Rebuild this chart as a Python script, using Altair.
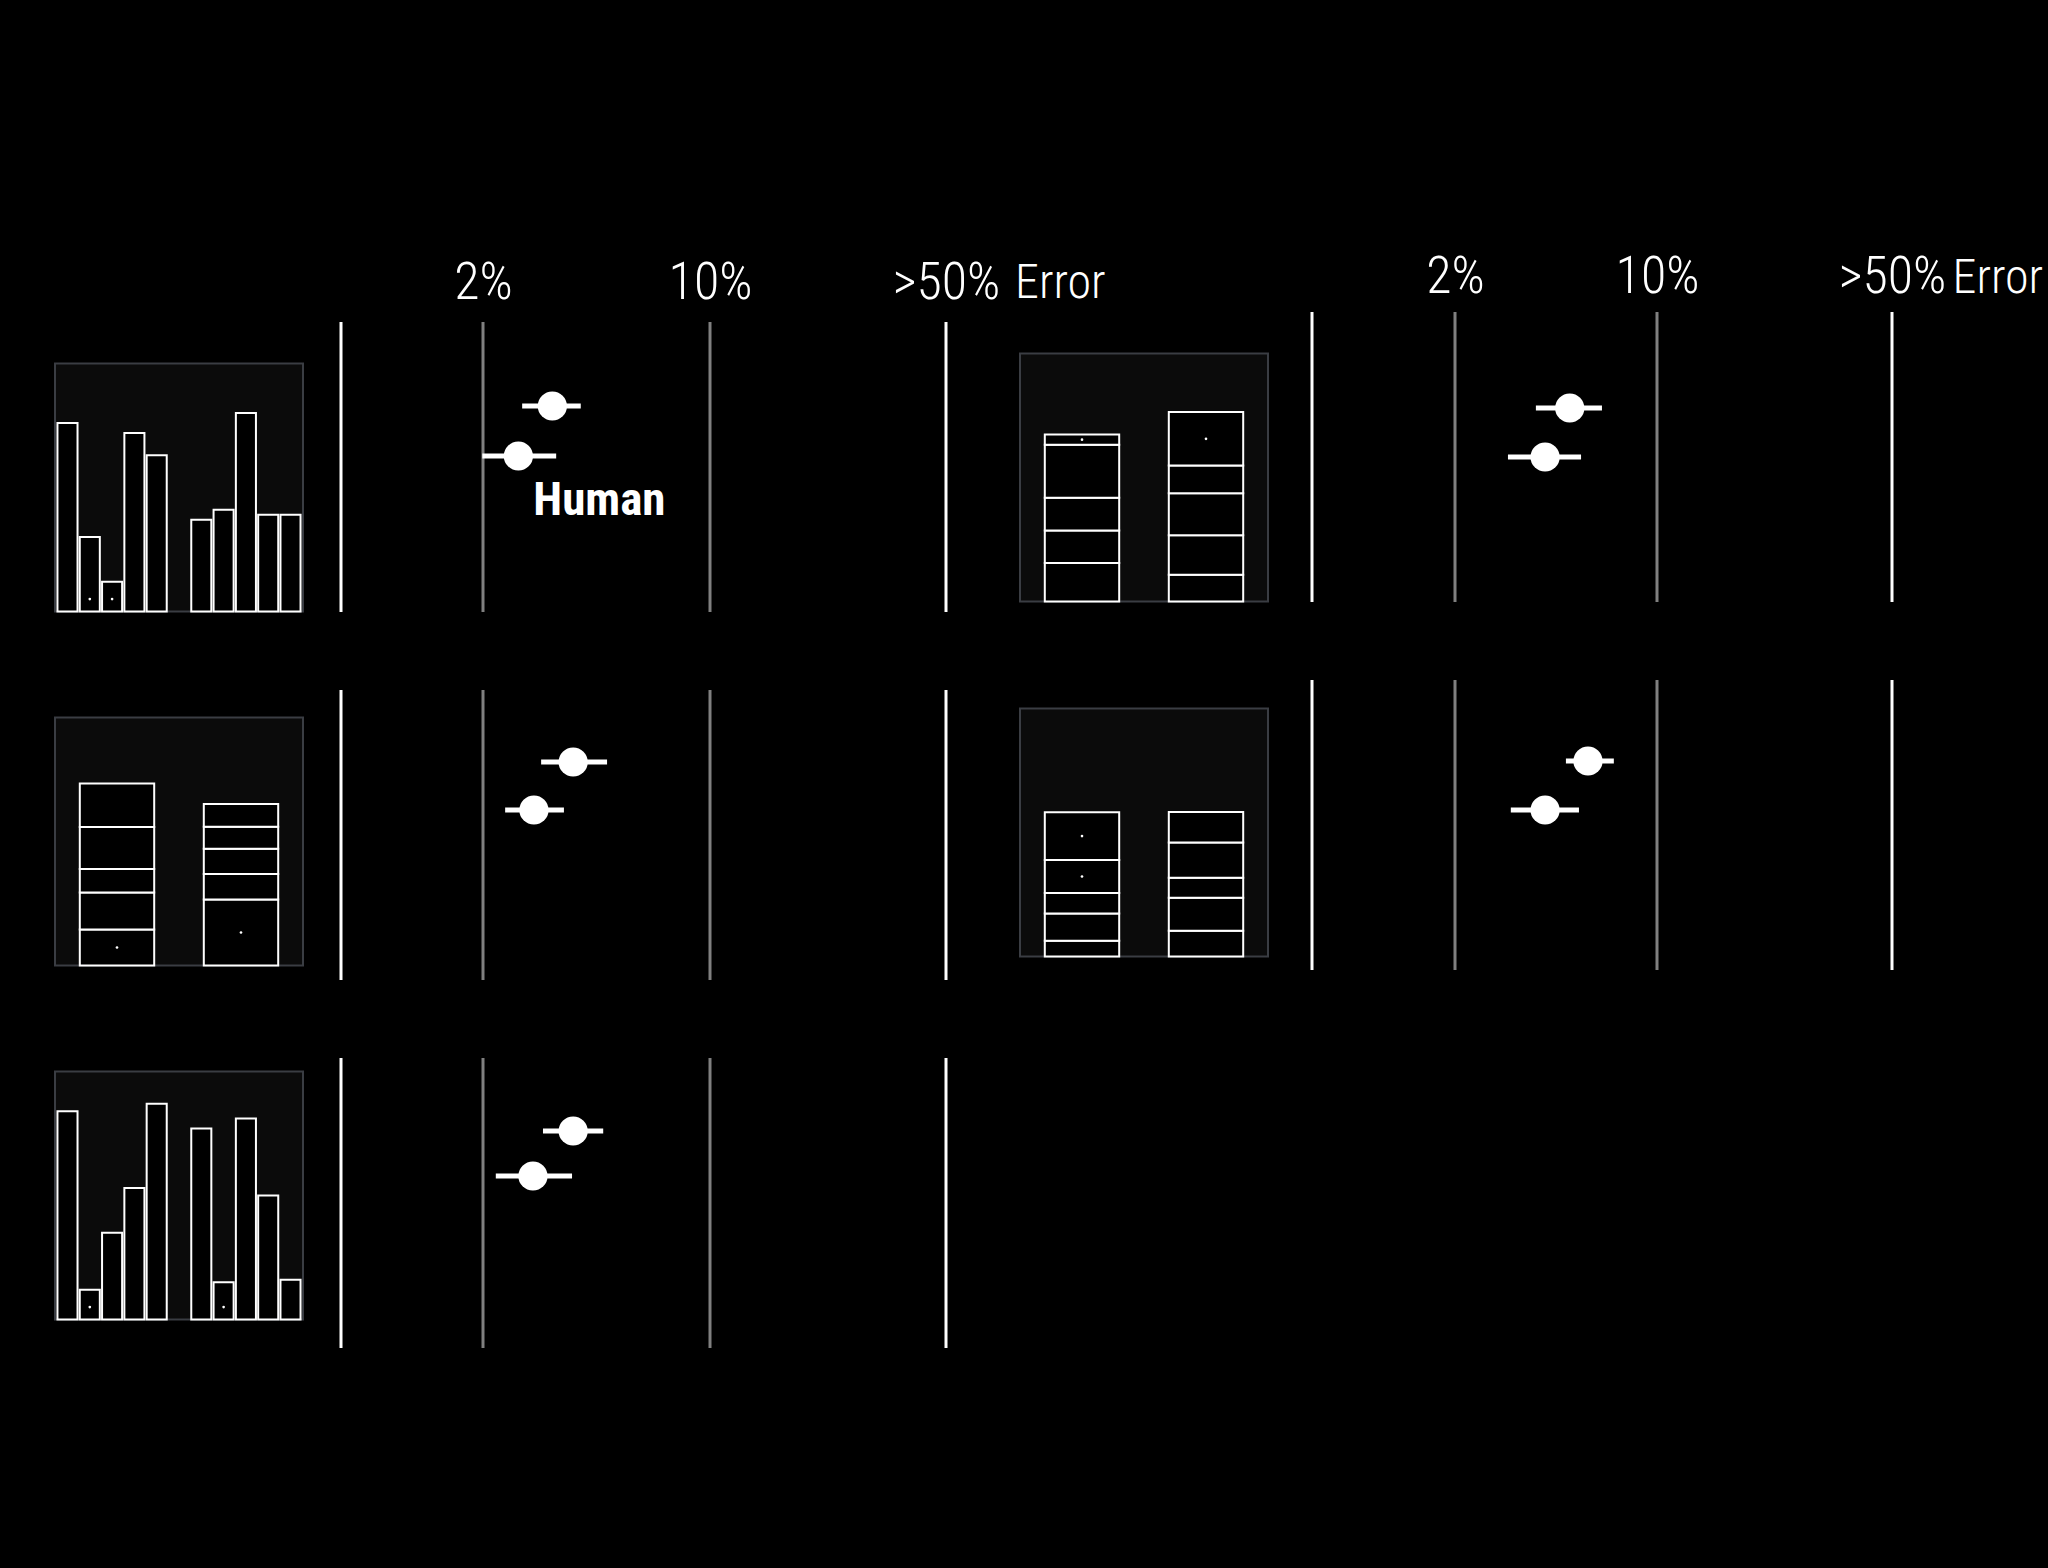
import altair as alt
import pandas as pd

FONT = "'Roboto Condensed', 'Liberation Sans Narrow', 'DejaVu Sans Condensed', Roboto, sans-serif"

# ---------------- data (panels: left column rows 1-3, right column rows 1-2) ----------------
series_names = ["Model", "Human"]
model_err = [3.27, 3.79, 3.79, 4.99, 5.77]
model_lo = [2.64, 3.02, 3.06, 3.81, 4.84]
model_hi = [4.00, 4.82, 4.69, 6.45, 7.09]
human_err = [2.57, 2.87, 2.85, 4.10, 4.10]
human_lo = [1.99, 2.34, 2.19, 3.05, 3.12]
human_hi = [3.36, 3.55, 3.76, 5.46, 5.37]

axis_title = "Error"
tick_values = [2, 10, 50]
guide_values = [0.7, 2, 10, 50]
guide_colors = ["#ffffff", "#808080", "#808080", "#ffffff"]

# thumbnail stimuli
bar_slots = ["b1", "b2", "b3", "b4", "b5", "gap", "b6", "b7", "b8", "b9", "b10"]
bars_1 = [76, 30, 12, 72, 63, 37, 41, 80, 39, 39]
bars_1_marked = ["b2", "b3"]
bars_2 = [84, 12, 35, 53, 87, 77, 15, 81, 50, 16]
bars_2_marked = ["b2", "b7"]

stack_1_left = [14.5, 14.9, 9.5, 16.9, 17.6]
stack_1_right = [26.6, 10.3, 10.2, 8.8, 9.2]
stack_1_marked = [("A", 1), ("B", 1)]
stack_2_left = [15.5, 13.1, 13.2, 21.4, 4.1]
stack_2_right = [10.8, 15.9, 16.9, 11.2, 21.6]
stack_2_marked = [("A", 5), ("B", 5)]
stack_3_left = [6.4, 10.9, 8.3, 13.3, 19.3]
stack_3_right = [10.4, 13.3, 8.1, 14.2, 12.3]
stack_3_marked = [("A", 4), ("A", 5)]

# ---------------- layout ----------------
THUMB = 248
PLOT_H = 290
VIEW_THUMB = alt.ViewBackground(fill="#0b0b0b", stroke="#3a3d43", strokeWidth=2)
Y_THUMB = alt.Scale(domain=[0, 100], nice=False, zero=True)
ONE = pd.DataFrame({"s": [0]})


def spacer(label=None, lx=0, ly=0):
    pt = alt.Chart(ONE).mark_point(opacity=0, size=1).encode(x=alt.value(20), y=alt.value(0))
    if label is None:
        return pt.properties(width=1, height=1)
    txt = alt.Chart(pd.DataFrame({"t": [label]})).mark_text(
        align="left", baseline="alphabetic", font=FONT, fontSize=48, fontWeight=300,
        color="#ffffff").encode(x=alt.value(lx), y=alt.value(ly), text="t:N")
    return alt.layer(pt, txt).properties(width=1, height=1)


def extent_marker(xpix):
    return alt.Chart(ONE).mark_point(opacity=0, size=1).encode(
        x=alt.value(xpix), y=alt.value(100))


def bar_thumb(values, marked):
    slots = [s for s in bar_slots if s != "gap"]
    df = pd.DataFrame({"slot": slots, "value": values, "marked": [s in marked for s in slots]})
    x = alt.X("slot:N", sort=bar_slots,
              scale=alt.Scale(domain=bar_slots, paddingInner=0.1, paddingOuter=0.11), axis=None)
    bars = alt.Chart(df).mark_bar(fill="#000000", stroke="#ffffff", strokeWidth=2).encode(
        x=x, y=alt.Y("value:Q", scale=Y_THUMB, axis=None))
    dots = alt.Chart(df).transform_filter("datum.marked").mark_circle(
        size=7, color="#ffffff", opacity=1).encode(x=x, y=alt.datum(5))
    return alt.layer(bars, dots).properties(width=THUMB, height=THUMB, view=VIEW_THUMB)


def stack_thumb(left, right, marked):
    rows = []
    for bar, vals in (("A", left), ("B", right)):
        for i, v in enumerate(vals):
            rows.append({"bar": bar, "seg": i + 1, "value": v, "marked": (bar, i + 1) in marked})
    df = pd.DataFrame(rows)
    base = alt.Chart(df).transform_stack(
        stack="value", groupby=["bar"], sort=[alt.SortField("seg")], as_=["y0", "y1"])
    x = alt.X("bar:N", scale=alt.Scale(paddingInner=0.4, paddingOuter=0.2), axis=None)
    bars = base.mark_bar(fill="#000000", stroke="#ffffff", strokeWidth=2).encode(
        x=x, y=alt.Y("y0:Q", scale=Y_THUMB, axis=None), y2="y1:Q")
    dots = base.transform_filter("datum.marked").transform_calculate(
        mid="(datum.y0 + datum.y1) / 2").mark_circle(size=7, color="#ffffff", opacity=1).encode(
        x=x, y=alt.Y("mid:Q", scale=Y_THUMB, axis=None))
    return alt.layer(bars, dots).properties(width=THUMB, height=THUMB, view=VIEW_THUMB)


def dot_plot(i, width, x_range, y_range, show_axis=False, show_label=False,
             label_pad=22, title_dx=None, marker_x=None):
    df_pts = pd.DataFrame({
        "who": series_names,
        "err": [model_err[i], human_err[i]],
        "lo": [model_lo[i], human_lo[i]],
        "hi": [model_hi[i], human_hi[i]],
    })
    df_guides = pd.DataFrame({"v": guide_values, "c": guide_colors})
    xs = alt.Scale(type="log", domain=guide_values, range=x_range, nice=False)
    ys = alt.Scale(type="point", domain=series_names, range=y_range, padding=0)
    if show_axis:
        kw = dict(
            orient="top", values=tick_values,
            labelExpr="datum.value >= 50 ? '>50%' : datum.value + '%'",
            domain=False, ticks=False, grid=False,
            labelPadding=label_pad, labelBaseline="alphabetic", labelAlign="center",
            labelFont=FONT, labelFontSize=52, labelFontWeight=300, labelColor="#ffffff",
            labelFlush=False, labelOverlap=False,
        )
        if title_dx is not None:
            kw.update(title=axis_title, titleFont=FONT, titleFontSize=48, titleFontWeight=300,
                      titleColor="#ffffff", titleAlign="left", titleBaseline="alphabetic",
                      titleAngle=0, titleX=width + title_dx, titleY=-label_pad)
        else:
            kw.update(title=None)
        axis = alt.Axis(**kw)
    else:
        axis = None

    def X(field):
        return alt.X(field, scale=xs, axis=axis)

    guides = alt.Chart(df_guides).mark_rule(strokeWidth=3).encode(
        x=X("v:Q"), color=alt.Color("c:N", scale=None))
    ebars = alt.Chart(df_pts).mark_rule(strokeWidth=5, color="#ffffff").encode(
        x=X("lo:Q"), x2="hi:Q", y=alt.Y("who:N", scale=ys, axis=None))
    dots = alt.Chart(df_pts).mark_circle(size=855, color="#ffffff", opacity=1).encode(
        x=X("err:Q"), y=alt.Y("who:N", scale=ys, axis=None))
    layers = [guides, ebars, dots]
    if show_label:
        label = alt.Chart(df_pts).transform_filter("datum.who == 'Human'").mark_text(
            align="left", baseline="alphabetic", dx=15, dy=59,
            font=FONT, fontSize=47, fontWeight="bold", color="#ffffff",
        ).encode(x=X("err:Q"), y=alt.Y("who:N", scale=ys, axis=None), text="who:N")
        layers.append(label)
    if marker_x is not None:
        layers.append(extent_marker(marker_x))
    return alt.layer(*layers).properties(width=width, height=PLOT_H)


def row(thumb, plot, thumb_space, gap, top=None):
    left = alt.vconcat(top if top is not None else spacer(), thumb, spacing=thumb_space)
    return alt.hconcat(left, plot, spacing=gap)


LEFT_W, RIGHT_W = 605, 580
LEFT_RANGE = [0, 142, 369, 605]
RIGHT_RANGE = [0, 143, 345, 580]

rowL1 = row(bar_thumb(bars_1, bars_1_marked),
            dot_plot(0, LEFT_W, LEFT_RANGE, [84, 134], show_axis=True, show_label=True,
                     label_pad=24, marker_x=LEFT_W + 62), 39.5, 35)
rowL2 = row(stack_thumb(stack_1_left, stack_1_right, stack_1_marked),
            dot_plot(1, LEFT_W, LEFT_RANGE, [72, 120]), 25.5, 35)
rowL3 = row(bar_thumb(bars_2, bars_2_marked),
            dot_plot(2, LEFT_W, LEFT_RANGE, [73, 118]), 11.5, 35)
# the left panel's "Error" label sits above the right column's first thumbnail
rowR1 = row(stack_thumb(stack_2_left, stack_2_right, stack_2_marked),
            dot_plot(3, RIGHT_W, RIGHT_RANGE, [96, 145], show_axis=True, label_pad=20,
                     title_dx=60, marker_x=RIGHT_W + 152), 39.5, 41,
            top=spacer(axis_title, -5, -14))
rowR2 = row(stack_thumb(stack_3_left, stack_3_right, stack_3_marked),
            dot_plot(4, RIGHT_W, RIGHT_RANGE, [81, 130]), 26.5, 41)

left_col = alt.vconcat(spacer(), alt.vconcat(rowL1, rowL2, rowL3, spacing=74), spacing=6)
right_col = alt.vconcat(spacer(), alt.vconcat(rowR1, rowR2, spacing=74), spacing=0)

chart = alt.hconcat(left_col, right_col, spacing=6).properties(
    background="#000000",
    padding={"left": 54, "top": 248, "right": 3, "bottom": 218},
).configure_view(strokeWidth=0)

chart.save("out.html", embed_options={"renderer": "svg", "actions": False})
